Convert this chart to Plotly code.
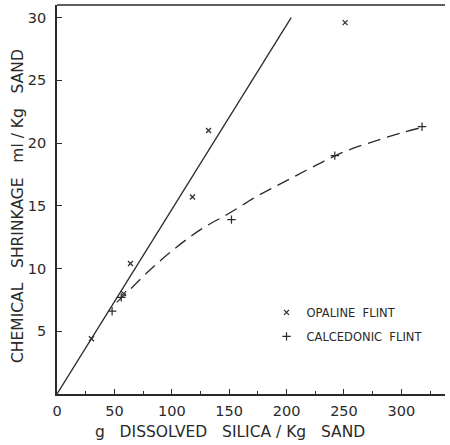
import plotly.graph_objects as go

# Data
opaline_x = [30, 58, 64, 118, 132, 251]
opaline_y = [4.4, 8.0, 10.4, 15.7, 21.0, 29.6]

calced_x = [48, 56, 152, 242, 318]
calced_y = [6.6, 7.7, 13.9, 19.0, 21.3]

# fitted line (opaline) and fitted curve (calcedonic)
line_x = [0, 204]
line_y = [0, 30]

curve_x = [52, 60, 80, 100, 125, 150, 175, 200, 225, 250, 275, 300, 316]
curve_y = [7.3, 8.0, 9.8, 11.4, 13.1, 14.4, 15.8, 17.0, 18.2, 19.3, 20.1, 20.8, 21.2]

x_ticks = [0, 50, 100, 150, 200, 250, 300]
y_ticks = [5, 10, 15, 20, 25, 30]

INK = "#2a2a2a"
FONT = "DejaVu Sans"
NB = "\u00a0"

fig = go.Figure()

fig.add_trace(go.Scatter(x=line_x, y=line_y, mode="lines",
                         line=dict(color=INK, width=1.3), showlegend=False, hoverinfo="skip"))
fig.add_trace(go.Scatter(x=curve_x, y=curve_y, mode="lines",
                         line=dict(color=INK, width=1.3, dash="13px,7px", shape="spline"),
                         showlegend=False, hoverinfo="skip"))
fig.add_trace(go.Scatter(x=opaline_x, y=opaline_y, mode="markers", name="OPALINE" + NB + " FLINT",
                         legendgroup="a",
                         marker=dict(symbol="x-thin", size=5, line=dict(color=INK, width=1.2), color=INK)))
fig.add_trace(go.Scatter(x=calced_x, y=calced_y, mode="markers", name="CALCEDONIC" + NB + " FLINT",
                         legendgroup="b",
                         marker=dict(symbol="cross-thin", size=6, line=dict(color=INK, width=1.2), color=INK)))

fig.update_layout(
    width=450, height=445,
    margin=dict(l=57, r=5, t=5, b=51),
    paper_bgcolor="white", plot_bgcolor="white",
    font=dict(family=FONT, color=INK),
    showlegend=True,
    legend=dict(x=0.54, y=0.247, xanchor="left", yanchor="top",
                bgcolor="rgba(0,0,0,0)", font=dict(size=11.5, family=FONT, color=INK),
                itemwidth=30, tracegroupgap=5),
    xaxis=dict(range=[0, 338], showgrid=False, zeroline=False,
               showline=True, linecolor=INK, linewidth=1.6,
               tickmode="array", tickvals=x_ticks, ticktext=[str(v) for v in x_ticks],
               ticks="inside", ticklen=5, tickcolor=INK, tickwidth=1.2,
               ticklabelstandoff=3,
               minor=dict(tickmode="array", tickvals=[25, 75, 125, 175, 225, 275, 325],
                          ticks="inside", ticklen=3, tickcolor=INK, tickwidth=1),
               tickfont=dict(size=14.5, family=FONT, color=INK)),
    yaxis=dict(range=[0, 31], showgrid=False, zeroline=False,
               showline=True, linecolor=INK, linewidth=1.6,
               tickmode="array", tickvals=y_ticks, ticktext=[str(v) for v in y_ticks],
               ticks="inside", ticklen=5, tickcolor=INK, tickwidth=1.2,
               ticklabelstandoff=6,
               tickfont=dict(size=14.5, family=FONT, color=INK)),
    shapes=[dict(type="line", xref="paper", yref="paper", x0=0, x1=1, y0=1, y1=1,
                 line=dict(color=INK, width=1.6))],
    annotations=[
        dict(text="g" + NB * 3 + "DISSOLVED" + NB * 3 + "SILICA" + NB + "/" + NB + "Kg" + NB * 3 + "SAND",
             xref="paper", yref="paper", x=(230 - 57) / 388, y=-(432 - 394) / 389,
             xanchor="center", yanchor="middle", showarrow=False,
             font=dict(size=15.5, family=FONT, color=INK)),
        dict(text="CHEMICAL" + NB * 3 + "SHRINKAGE" + NB * 3 + "ml" + NB + "/" + NB + "Kg" + NB * 3 + "SAND",
             xref="paper", yref="paper", x=(18 - 57) / 388, y=(394 - 206) / 389,
             xanchor="center", yanchor="middle", showarrow=False, textangle=-90,
             font=dict(size=15.5, family=FONT, color=INK)),
    ],
)

fig.write_html("out.html", config={"displayModeBar": False},
               post_script="document.body.style.margin='0';")
